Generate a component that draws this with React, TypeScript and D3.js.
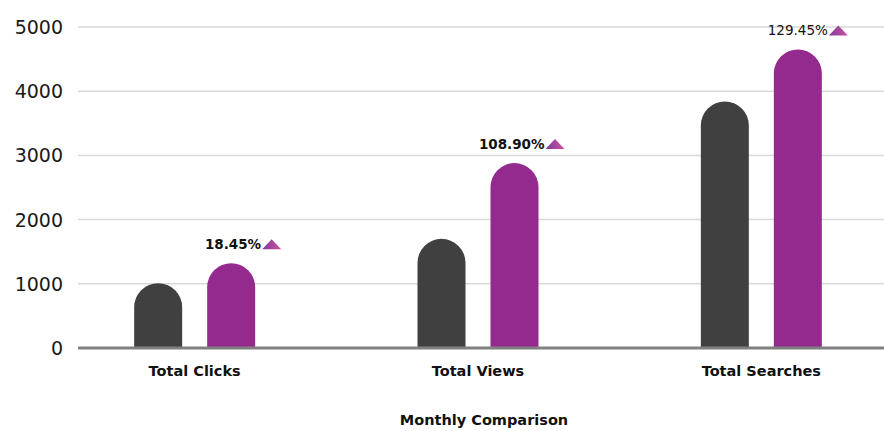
import React from "react";
import * as d3 from "d3";

const categories = ["Total Clicks", "Total Views", "Total Searches"];
const previousValues = [1010, 1700, 3840];
const currentValues = [1320, 2880, 4650];
const changeLabels = ["18.45%", "108.90%", "129.45%"];
const changeLabelBold = [true, true, false];
const yTicks = [0, 1000, 2000, 3000, 4000, 5000];
const xAxisTitle = "Monthly Comparison";

const W = 884;
const H = 431;
const plotLeft = 78;
const plotRight = 884;
const yTop = 27;
const yBottom = 348;
const barW = 48;
const barOffset = 36.5;

function roundedBar(x: number, yTopV: number, w: number, y0: number) {
  const r = w / 2;
  const p = d3.path();
  p.moveTo(x, y0);
  p.lineTo(x, yTopV + r);
  p.arc(x + r, yTopV + r, r, Math.PI, 0);
  p.lineTo(x + w, y0);
  p.closePath();
  return p.toString();
}

export default function App() {
  const y = d3.scaleLinear().domain([0, 5000]).range([yBottom, yTop]);
  const x = d3.scaleBand().domain(categories).range([53, 903]);
  const font = "'DejaVu Sans', Verdana, sans-serif";

  return (
    <svg
      width={W}
      height={H}
      style={{ position: "absolute", left: 0, top: 0, background: "#fff" }}
      fontFamily={font}
    >
      <defs>
        <linearGradient id="tri" x1="0" x2="1" y1="0" y2="0">
          <stop offset="0%" stopColor="#7a3c9e" />
          <stop offset="100%" stopColor="#d0509c" />
        </linearGradient>
      </defs>
      {yTicks.map((t) => (
        <g key={t}>
          {t !== 0 && (
            <line x1={plotLeft} x2={plotRight} y1={y(t)} y2={y(t)} stroke="#d9d9d9" strokeWidth={1.5} />
          )}
          <text x={63} y={y(t) + 7} textAnchor="end" fontSize={19} fill="#1a1a1a">
            {t}
          </text>
        </g>
      ))}
      {categories.map((c, i) => {
        const cx = (x(c) as number) + x.bandwidth() / 2;
        const dx = cx - barOffset - barW / 2;
        const px = cx + barOffset - barW / 2;
        const topP = y(currentValues[i]);
        const triL = px + barW + 7;
        return (
          <g key={c}>
            <path d={roundedBar(dx, y(previousValues[i]), barW, yBottom)} fill="#404040" />
            <path d={roundedBar(px, topP, barW, yBottom)} fill="#952a8e" />
            <text
              x={triL - 1}
              y={topP - 14}
              textAnchor="end"
              fontSize={13.5}
              fontWeight={changeLabelBold[i] ? "bold" : "normal"}
              fill="#111"
            >
              {changeLabels[i]}
            </text>
            <path
              d={`M${triL},${topP - 14} L${triL + 9.5},${topP - 24} L${triL + 19},${topP - 14} Z`}
              fill="url(#tri)"
            />
            <text x={cx} y={376} textAnchor="middle" fontSize={14.5} fontWeight="bold" fill="#111">
              {c}
            </text>
          </g>
        );
      })}
      <line x1={plotLeft} x2={plotRight} y1={yBottom} y2={yBottom} stroke="#808080" strokeWidth={3} />
      <text x={484} y={425} textAnchor="middle" fontSize={14.5} fontWeight="bold" fill="#111">
        {xAxisTitle}
      </text>
    </svg>
  );
}
